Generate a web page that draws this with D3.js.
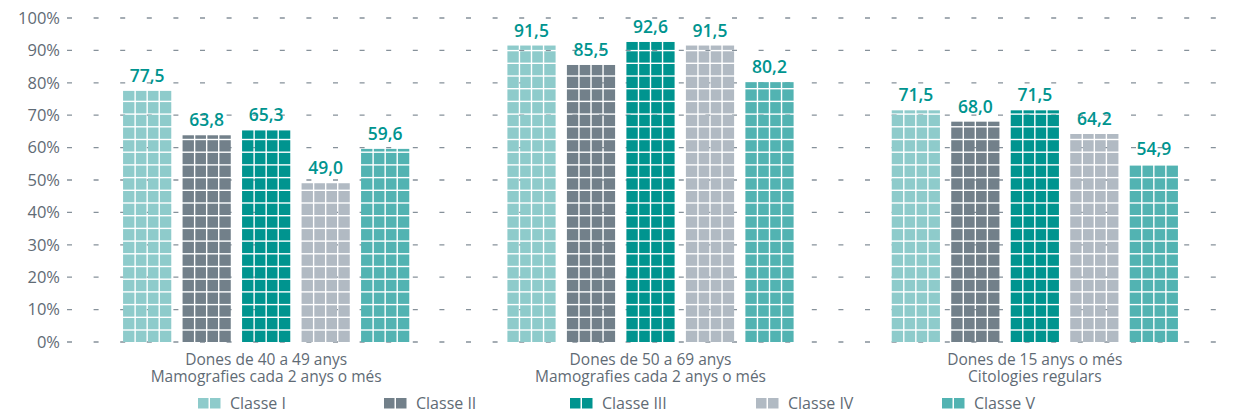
<!DOCTYPE html>
<html>
<head>
<meta charset="utf-8">
<script src="https://cdn.jsdelivr.net/npm/d3@7"></script>
<style>
  body { margin: 0; background: #fff; }
  svg text { font-family: "Open Sans", "Noto Sans", sans-serif; }
</style>
</head>
<body>
<div id="chart"></div>
<script>
// categories (two lines each) and series
let groups = ['g1', 'g2', 'g3'];
let groupLine1 = ['Dones de 40 a 49 anys', 'Dones de 50 a 69 anys', 'Dones de 15 anys o més'];
let groupLine2 = ['Mamografies cada 2 anys o més', 'Mamografies cada 2 anys o més', 'Citologies regulars'];
let classes = ['Classe I', 'Classe II', 'Classe III', 'Classe IV', 'Classe V'];
let classColors = ['#8ecbcb', '#72808a', '#00948f', '#b1bac3', '#52b3b2'];

// values per class, one per group
let classeI = [77.5, 91.5, 71.5];
let classeII = [63.8, 85.5, 68.0];
let classeIII = [65.3, 92.6, 71.5];
let classeIV = [49.0, 91.5, 64.2];
let classeV = [59.6, 80.2, 54.9];
let yTicks = [0, 10, 20, 30, 40, 50, 60, 70, 80, 90, 100];

let series = [classeI, classeII, classeIII, classeIV, classeV];

//chart constants
let totalWidth = 1236;
let totalHeight = 414;
let cellPitch = 12.7; // height of one tile of the bar texture
let gap = 1.4;

let svg = d3.select('#chart')
    .append('svg')
    .attr('width', totalWidth)
    .attr('height', totalHeight);

let yScale = d3.scaleLinear()
    .domain([0, 100])
    .range([342, 18]);

let x0 = d3.scaleBand()
    .domain(groups)
    .range([74, 1227]);

let x1 = d3.scaleBand()
    .domain(classes)
    .range([-148.75, 148.75])
    .paddingInner(0.19)
    .paddingOuter(0.095);

let color = d3.scaleOrdinal().domain(classes).range(classColors);

// gridlines (drawn first, show through the gaps between tiles)
svg.append('g')
    .selectAll('line')
    .data(yTicks)
    .enter()
    .append('line')
    .attr('x1', 67)
    .attr('x2', 1232)
    .attr('y1', d => yScale(d))
    .attr('y2', d => yScale(d))
    .style('stroke', '#86919a')
    .style('stroke-width', 1.3)
    .style('stroke-dasharray', '5,21.6');

// y labels
svg.append('g')
    .selectAll('text')
    .data(yTicks)
    .enter()
    .append('text')
    .attr('x', 60)
    .attr('y', d => yScale(d))
    .attr('dy', '0.35em')
    .attr('text-anchor', 'end')
    .style('font-size', '16.5px')
    .style('fill', '#5f6b75')
    .text(d => d + '%');

//flatten bars
let bars = [];
series.forEach((vals, ci) => {
    vals.forEach((v, gi) => {
        bars.push({ cls: classes[ci], group: groups[gi], value: v });
    });
});

let barG = svg.append('g');
bars.forEach(b => {
    let bx = x0(b.group) + x0.bandwidth() / 2 + x1(b.cls);
    let bw = x1.bandwidth();
    let base = yScale(0);
    let top = yScale(b.value);
    let colW = bw / 4;
    // stack tiles from the baseline up
    for (let r = 0; base - r * cellPitch > top + 0.5; r++) {
        let yb = base - r * cellPitch;
        let yt = Math.max(top, yb - cellPitch + gap);
        for (let c = 0; c < 4; c++) {
            barG.append('rect')
                .attr('x', bx + c * colW + (c > 0 ? gap / 2 : 0))
                .attr('width', colW - (c > 0 && c < 3 ? gap : gap / 2))
                .attr('y', yt)
                .attr('height', yb - yt)
                .style('fill', color(b.cls));
        }
    }
    // value label
    svg.append('text')
        .attr('x', bx + bw / 2)
        .attr('y', top - 9)
        .attr('text-anchor', 'middle')
        .style('font-size', '17.5px')
        .style('font-weight', 600)
        .style('fill', '#00948f')
        .text(b.value.toFixed(1).replace('.', ','));
});

// category labels
let catG = svg.append('g');
groups.forEach((g, i) => {
    let cx = x0(g) + x0.bandwidth() / 2;
    catG.append('text')
        .attr('x', cx)
        .attr('y', 364.5)
        .attr('text-anchor', 'middle')
        .style('font-size', '15.5px')
        .style('fill', '#5f6b75')
        .text(groupLine1[i]);
    catG.append('text')
        .attr('x', cx)
        .attr('y', 382)
        .attr('text-anchor', 'middle')
        .style('font-size', '15.5px')
        .style('fill', '#5f6b75')
        .text(groupLine2[i]);
});

// legend
let legend = svg.selectAll('.legend')
    .data(classes)
    .enter()
    .append('g')
    .attr('class', 'legend')
    .attr('transform', (d, i) => `translate(${198 + i * 186}, 398)`);

legend.append('rect')
    .attr('width', 10.5)
    .attr('height', 10.5)
    .style('fill', d => color(d));
legend.append('rect')
    .attr('x', 12)
    .attr('width', 10.5)
    .attr('height', 10.5)
    .style('fill', d => color(d));

legend.append('text')
    .attr('x', 32)
    .attr('y', 11)
    .style('font-size', '16px')
    .style('fill', '#5f6b75')
    .text(d => d);
</script>
</body>
</html>
